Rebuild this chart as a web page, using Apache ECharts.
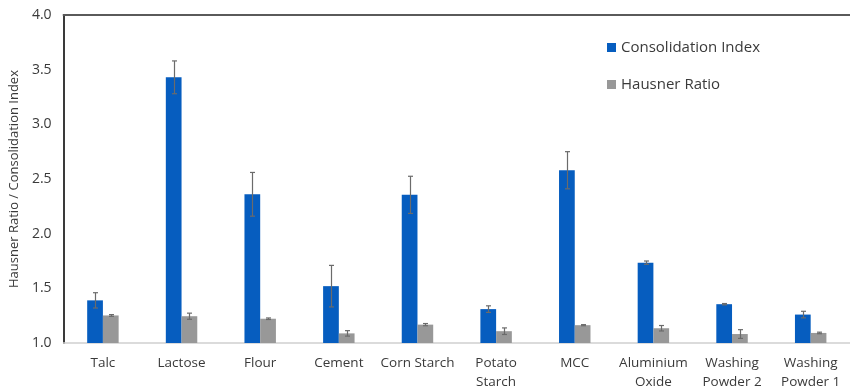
<!DOCTYPE html>
<html>
<head>
<meta charset="utf-8">
<script src="https://cdn.jsdelivr.net/npm/echarts@6/dist/echarts.min.js"></script>
<style>
  html, body { margin: 0; padding: 0; background: #fff; }
  #chart { width: 850px; height: 392px; }
</style>
</head>
<body>
<div id="chart"></div>
<script>
// Powder flow properties per material
const categories = ['Talc', 'Lactose', 'Flour', 'Cement', 'Corn Starch', 'Potato\nStarch', 'MCC', 'Aluminium\nOxide', 'Washing\nPowder 2', 'Washing\nPowder 1'];
const consolidationIndex = [1.39, 3.43, 2.36, 1.52, 2.355, 1.31, 2.58, 1.735, 1.355, 1.26];
const consolidationErr   = [0.07, 0.15, 0.20, 0.19, 0.17, 0.03, 0.17, 0.015, 0.006, 0.03];
const hausnerRatio       = [1.252, 1.245, 1.222, 1.088, 1.168, 1.108, 1.163, 1.135, 1.082, 1.092];
const hausnerErr         = [0.008, 0.028, 0.007, 0.025, 0.01, 0.03, 0.005, 0.025, 0.04, 0.007];
const yTicks = [1.0, 1.5, 2.0, 2.5, 3.0, 3.5, 4.0];

const BLUE = '#065DBF';
const GREY = '#989898';
const TEXT = '#3a3a3a';
const FONT = "'Open Sans', sans-serif";

// Error bar drawn as a vertical whisker with small caps, shifted onto its bar
function errorBars(values, errs, side) {
  return {
    type: 'custom',
    silent: true,
    z: 5,
    data: values.map((v, i) => [i, v - errs[i], v + errs[i]]),
    renderItem: function (params, api) {
      const band = api.size([1, 0])[0];
      const dx = side * band * 0.1;
      const lo = api.coord([api.value(0), api.value(1)]);
      const hi = api.coord([api.value(0), api.value(2)]);
      const x = Math.round(lo[0] + dx) + 0.5;
      const cap = 2.5;
      const style = { stroke: '#6b6b6b', lineWidth: 1.2 };
      return {
        type: 'group',
        children: [
          { type: 'line', shape: { x1: x, y1: hi[1], x2: x, y2: lo[1] }, style: style },
          { type: 'line', shape: { x1: x - cap, y1: hi[1], x2: x + cap, y2: hi[1] }, style: style },
          { type: 'line', shape: { x1: x - cap, y1: lo[1], x2: x + cap, y2: lo[1] }, style: style }
        ]
      };
    }
  };
}

const chart = echarts.init(document.getElementById('chart'), null, { renderer: 'canvas' });
chart.setOption({
  animation: false,
  backgroundColor: '#fff',
  textStyle: { fontFamily: FONT },
  grid: { left: 60, right: 0, top: 15, bottom: 47 },
  legend: {
    orient: 'vertical',
    left: 602,
    top: 35,
    itemWidth: 9,
    itemHeight: 9,
    itemGap: 22,
    icon: 'rect',
    textStyle: { fontFamily: FONT, fontSize: 15, color: TEXT },
    data: ['Consolidation Index', 'Hausner Ratio']
  },
  xAxis: [{
    type: 'category',
    data: categories,
    axisLine: { show: true, lineStyle: { color: '#d0d0d0', width: 1.5 } },
    axisTick: { show: false },
    axisLabel: { fontFamily: FONT, fontSize: 13.5, color: TEXT, margin: 11, lineHeight: 19, interval: 0 }
  }, {
    type: 'category',
    position: 'top',
    data: categories,
    axisLine: { show: true, lineStyle: { color: '#5a5a5a', width: 2 } },
    axisTick: { show: false },
    axisLabel: { show: false }
  }],
  yAxis: {
    type: 'value',
    min: yTicks[0],
    max: yTicks[yTicks.length - 1],
    interval: 0.5,
    name: 'Hausner Ratio / Consolidation Index',
    nameLocation: 'middle',
    nameGap: 42,
    nameTextStyle: { fontFamily: FONT, fontSize: 13, color: TEXT },
    axisLine: { show: true, lineStyle: { color: '#3a3a3a', width: 2 } },
    axisTick: { show: false },
    splitLine: { show: false },
    axisLabel: {
      fontFamily: FONT, fontSize: 14, color: TEXT, margin: 12,
      formatter: v => v.toFixed(1)
    }
  },
  series: [
    {
      name: 'Consolidation Index',
      type: 'bar',
      data: consolidationIndex,
      barWidth: '20%',
      barGap: '0%',
      itemStyle: { color: BLUE }
    },
    {
      name: 'Hausner Ratio',
      type: 'bar',
      data: hausnerRatio,
      barWidth: '20%',
      barGap: '0%',
      itemStyle: { color: GREY }
    },
    errorBars(consolidationIndex, consolidationErr, -1),
    errorBars(hausnerRatio, hausnerErr, 1)
  ]
});
</script>
</body>
</html>
